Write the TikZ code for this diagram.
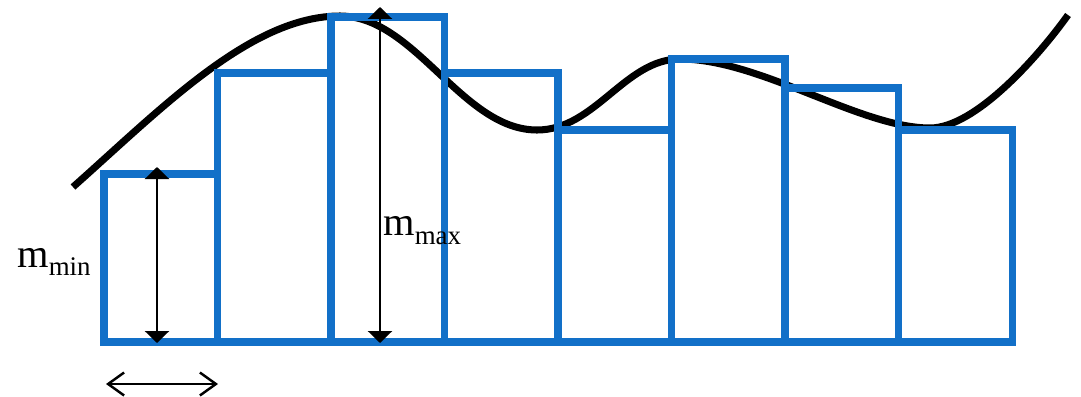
\documentclass[tikz,border=0pt]{standalone}
\usepackage{fontspec}
\setmainfont{Liberation Serif}
\usepackage{tikz}
\usetikzlibrary{arrows.meta}
\usepackage{xcolor}
\definecolor{barblue}{RGB}{18,112,200}

\begin{document}
\begin{tikzpicture}[x=0.02cm, y=-0.02cm,
    bar/.style={draw=barblue, line width=4pt},
    curve/.style={draw=black, line width=4pt},
    measure/.style={line width=1.4pt, {Triangle[length=0.24cm,width=0.48cm]}-{Triangle[length=0.24cm,width=0.48cm]}},
    widthmark/.style={line width=1.4pt, {Straight Barb[length=0.32cm,width=0.46cm]}-{Straight Barb[length=0.32cm,width=0.46cm]}},
    label/.style={anchor=base west, inner sep=0pt, font=\fontsize{23}{23}\selectfont}]
  \useasboundingbox (0,0) rectangle (1081,396);
  % The function
  \draw[curve] (73,187) .. controls (162,108) and (251,16) .. (340,16)
    .. controls (415,16) and (462,130) .. (537,130)
    .. controls (595,130) and (625,59) .. (680,59)
    .. controls (760,59) and (860,128) .. (930,128)
    .. controls (975,128) and (1038,57) .. (1068,15);
  % Bars
  \foreach \i/\top in {0/174, 1/73, 2/17, 3/73, 4/130, 5/59, 6/88, 7/130} {
    \draw[bar] ({104+113.5*\i},342) rectangle ({104+113.5*(\i+1)},\top);
  }
  % Measures
  \coordinate (minTop) at (157,167);
  \coordinate (minBot) at (157,343);
  \coordinate (maxTop) at (380,7);
  \coordinate (maxBot) at (380,343);
  \coordinate (dxLeft) at (106,384);
  \coordinate (dxRight) at (218,384);
  \draw[measure] (minTop) -- (minBot);
  \draw[measure] (maxTop) -- (maxBot);
  \draw[widthmark] (dxLeft) -- (dxRight);
  \node[label] (mmin) at (17,267) {m\raisebox{-0.16cm}{\fontsize{15.3}{16}\selectfont min}};
  \node[label] (mmax) at (383,235) {m\raisebox{-0.18cm}{\fontsize{15.3}{16}\selectfont max}};
\end{tikzpicture}
\end{document}
